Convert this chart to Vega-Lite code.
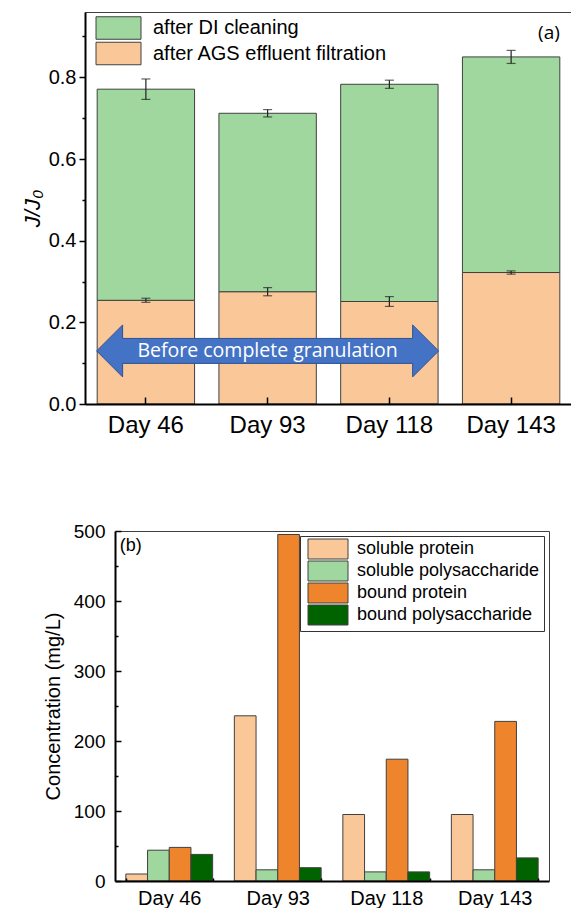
{
  "$schema": "https://vega.github.io/schema/vega-lite/v6.json",
  "padding": {"left": 20, "top": 11, "right": 0, "bottom": 0},
  "spacing": 84,
  "resolve": {"scale": {"x": "independent", "y": "independent", "color": "independent"}, "legend": {"color": "independent"}},
  "config": {
    "font": "Liberation Sans",
    "view": {"stroke": "#404040", "strokeWidth": 1},
    "axis": {"labelColor": "#000", "titleColor": "#000", "domainColor": "#000", "tickColor": "#000", "grid": false, "titleFontWeight": "normal"},
    "legend": {"labelColor": "#000", "labelLimit": 400}
  },
  "datasets": {
    "flux": [
      {"day": "Day 46", "series": "after AGS effluent filtration", "start": 0, "end": 0.254, "err": 0.005},
      {"day": "Day 46", "series": "after DI cleaning", "start": 0.254, "end": 0.771, "err": 0.025},
      {"day": "Day 93", "series": "after AGS effluent filtration", "start": 0, "end": 0.275, "err": 0.01},
      {"day": "Day 93", "series": "after DI cleaning", "start": 0.275, "end": 0.712, "err": 0.009},
      {"day": "Day 118", "series": "after AGS effluent filtration", "start": 0, "end": 0.251, "err": 0.012},
      {"day": "Day 118", "series": "after DI cleaning", "start": 0.251, "end": 0.783, "err": 0.01},
      {"day": "Day 143", "series": "after AGS effluent filtration", "start": 0, "end": 0.322, "err": 0.004},
      {"day": "Day 143", "series": "after DI cleaning", "start": 0.322, "end": 0.85, "err": 0.016}
    ],
    "eps": [
      {"day": "Day 46", "type": "soluble protein", "value": 10},
      {"day": "Day 46", "type": "soluble polysaccharide", "value": 44},
      {"day": "Day 46", "type": "bound protein", "value": 48},
      {"day": "Day 46", "type": "bound polysaccharide", "value": 38},
      {"day": "Day 93", "type": "soluble protein", "value": 236},
      {"day": "Day 93", "type": "soluble polysaccharide", "value": 16},
      {"day": "Day 93", "type": "bound protein", "value": 495},
      {"day": "Day 93", "type": "bound polysaccharide", "value": 19},
      {"day": "Day 118", "type": "soluble protein", "value": 95},
      {"day": "Day 118", "type": "soluble polysaccharide", "value": 13},
      {"day": "Day 118", "type": "bound protein", "value": 174},
      {"day": "Day 118", "type": "bound polysaccharide", "value": 13},
      {"day": "Day 143", "type": "soluble protein", "value": 95},
      {"day": "Day 143", "type": "soluble polysaccharide", "value": 16},
      {"day": "Day 143", "type": "bound protein", "value": 228},
      {"day": "Day 143", "type": "bound polysaccharide", "value": 33}
    ]
  },
  "vconcat": [
    {
      "width": 487,
      "height": 392,
      "encoding": {
        "x": {
          "field": "day", "type": "nominal",
          "sort": ["Day 46", "Day 93", "Day 118", "Day 143"],
          "scale": {"paddingInner": 0.2, "paddingOuter": 0.1},
          "axis": {"title": null, "labelAngle": 0, "labelFontSize": 24, "labelPadding": 16, "tickSize": -7, "tickWidth": 1.5, "domainWidth": 2, "zindex": 1}
        }
      },
      "layer": [
        {
          "data": {"name": "flux"},
          "mark": {"type": "bar", "stroke": "#404040", "strokeWidth": 1},
          "encoding": {
            "y": {
              "field": "end", "type": "quantitative", "title": "J/J₀",
              "scale": {"domain": [0, 0.96], "nice": false},
              "axis": {
                "values": [0, 0.1, 0.2, 0.3, 0.4, 0.5, 0.6, 0.7, 0.8, 0.9],
                "labelExpr": "round(datum.value*10)%2==0 ? format(datum.value,'.1f') : ''",
                "tickSize": {"condition": {"test": "round(datum.value*10)%2==1", "value": 3}, "value": 6},
                "tickWidth": 1.5, "domainWidth": 2,
                "labelFontSize": 20, "labelPadding": 3,
                "titleFontSize": 22, "titleFontStyle": "italic",
                "titleX": -53, "titleBaseline": "middle", "minExtent": 63
              }
            },
            "y2": {"field": "start"},
            "color": {
              "field": "series", "type": "nominal",
              "scale": {"domain": ["after DI cleaning", "after AGS effluent filtration"], "range": ["#9FD79F", "#FAC898"]},
              "legend": {
                "title": null, "orient": "top-left", "offset": 6, "padding": 0,
                "symbolType": "M-1,-2.25H8V2.25H-1Z", "symbolSize": 100,
                "symbolStrokeColor": "#404040", "symbolStrokeWidth": 1,
                "labelFontSize": 20, "labelOffset": 42, "rowPadding": -2.5
              }
            }
          }
        },
        {
          "data": {"name": "flux"},
          "mark": {"type": "errorbar", "color": "#222", "thickness": 1.2, "ticks": {"size": 9, "thickness": 1.2, "color": "#222"}},
          "encoding": {
            "y": {"field": "end", "type": "quantitative", "title": "J/J₀"},
            "yError": {"field": "err"}
          }
        },
        {
          "data": {"values": [{"label": "Before complete granulation"}]},
          "mark": {
            "type": "point", "filled": true, "opacity": 1,
            "shape": "M-1,0L-0.848,-0.152L-0.848,-0.073L0.848,-0.073L0.848,-0.152L1,0L0.848,0.152L0.848,0.073L-0.848,0.073L-0.848,0.152Z",
            "size": 116964, "fill": "#4472C4", "stroke": "#2F528F", "strokeWidth": 1
          },
          "encoding": {"x": {"datum": "Day 93"}, "y": {"datum": 0.13}}
        },
        {
          "data": {"values": [{"label": "Before complete granulation"}]},
          "mark": {"type": "text", "font": "Open Sans", "fontSize": 19.5, "color": "#fff", "align": "center", "baseline": "middle"},
          "encoding": {"x": {"datum": "Day 93"}, "y": {"datum": 0.13}, "text": {"field": "label"}}
        },
        {
          "data": {"values": [{"label": "(a)"}]},
          "mark": {"type": "text", "font": "Open Sans", "fontSize": 19, "color": "#000", "align": "right", "baseline": "middle"},
          "encoding": {"x": {"datum": "Day 143", "bandPosition": 1}, "y": {"datum": 0.908}, "text": {"field": "label"}}
        }
      ]
    },
    {
      "width": 464,
      "height": 350,
      "view": {"stroke": null},
      "resolve": {"axis": {"x": "independent", "y": "independent"}},
      "layer": [
        {
          "data": {"name": "eps"},
          "mark": {"type": "bar", "stroke": "#404040", "strokeWidth": 1},
          "encoding": {
            "x": {
              "field": "day", "type": "nominal",
              "sort": ["Day 46", "Day 93", "Day 118", "Day 143"],
              "scale": {"range": [30, 464], "paddingInner": 0.2, "paddingOuter": 0.1},
              "axis": {"orient": "bottom", "title": null, "labelAngle": 0, "labelFontSize": 20, "labelPadding": 10, "tickBand": "extent", "tickSize": -3, "tickWidth": 1.5, "domainWidth": 2, "zindex": 1}
            },
            "xOffset": {
              "field": "type", "type": "nominal",
              "sort": ["soluble protein", "soluble polysaccharide", "bound protein", "bound polysaccharide"],
              "scale": {"paddingInner": 0, "paddingOuter": 0}
            },
            "y": {
              "field": "value", "type": "quantitative", "title": "Concentration (mg/L)",
              "scale": {"domain": [0, 500], "nice": false},
              "axis": {
                "orient": "left", "offset": -30,
                "values": [0, 50, 100, 150, 200, 250, 300, 350, 400, 450, 500],
                "labelExpr": "datum.value%100==0 ? format(datum.value,'d') : ''",
                "tickSize": {"condition": {"test": "datum.value%100!=0", "value": -3}, "value": -6},
                "tickWidth": 1.5, "domainWidth": 2,
                "labelFontSize": 19, "labelPadding": 16,
                "titleFontSize": 20,
                "titleX": -62, "titleBaseline": "middle", "zindex": 1
              }
            },
            "color": {
              "field": "type", "type": "nominal",
              "scale": {"domain": ["soluble protein", "soluble polysaccharide", "bound protein", "bound polysaccharide"], "range": ["#FAC898", "#9FD79F", "#EE842C", "#006300"]},
              "legend": {
                "title": null, "orient": "top-right", "offset": 5, "padding": 4,
                "fillColor": "#fff", "strokeColor": "#333",
                "symbolType": "M-1,-2H7V2H-1Z", "symbolSize": 100,
                "symbolStrokeColor": "#404040", "symbolStrokeWidth": 1,
                "labelFontSize": 18, "labelOffset": 35, "rowPadding": -2
              }
            }
          }
        },
        {
          "data": {"values": [{"label": "(b)"}]},
          "mark": {"type": "text", "fontSize": 18, "color": "#000", "align": "left", "baseline": "middle", "dx": -6},
          "encoding": {
            "x": {"datum": "Day 46", "bandPosition": 0, "axis": {"orient": "top", "title": null, "labels": false, "ticks": false, "domainColor": "#404040", "domainWidth": 1}},
            "y": {"datum": 478, "axis": {"orient": "right", "title": null, "labels": false, "ticks": false, "domainColor": "#404040", "domainWidth": 1}},
            "text": {"field": "label"}
          }
        }
      ]
    }
  ]
}
